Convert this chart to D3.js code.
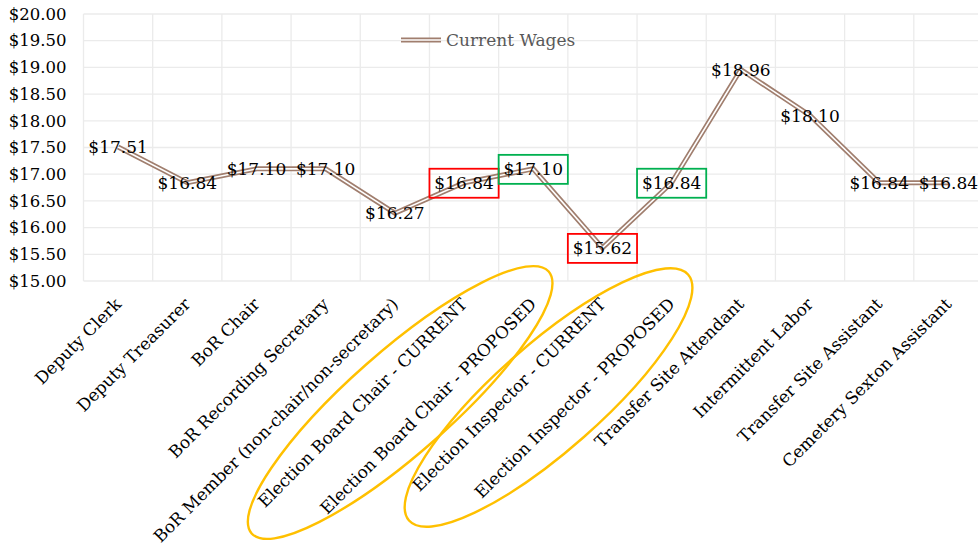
<!DOCTYPE html>
<html><head><meta charset="utf-8">
<script src="https://cdn.jsdelivr.net/npm/d3@7/dist/d3.min.js"></script>
<style>
html,body{margin:0;padding:0;background:#fff;}
svg{display:block;font-family:"DejaVu Serif",serif;}
</style></head>
<body><svg id="c" width="978" height="548"></svg>
<script>
const categories = ["Deputy Clerk","Deputy Treasurer","BoR Chair","BoR Recording Secretary","BoR Member (non-chair/non-secretary)","Election Board Chair - CURRENT","Election Board Chair - PROPOSED","Election Inspector - CURRENT","Election Inspector - PROPOSED","Transfer Site Attendant","Intermittent Labor","Transfer Site Assistant","Cemetery Sexton Assistant"];
const currentWages = [17.51,16.84,17.10,17.10,16.27,16.84,17.10,15.62,16.84,18.96,18.10,16.84,16.84];
const yTicks = [15,15.5,16,16.5,17,17.5,18,18.5,19,19.5,20];
const seriesName = "Current Wages";
const redBoxes = ["Election Board Chair - CURRENT","Election Inspector - CURRENT"];
const greenBoxes = ["Election Board Chair - PROPOSED","Election Inspector - PROPOSED"];
const circledGroups = [["Election Board Chair - CURRENT","Election Board Chair - PROPOSED"],["Election Inspector - CURRENT","Election Inspector - PROPOSED"]];

const svg = d3.select("#c");
const L=83.5, R=983, T=14, B=281;
const x = d3.scaleBand().domain(categories).range([L,R]).padding(0);
const y = d3.scaleLinear().domain([15,20]).range([B,T]);
const cx = c => x(c)+x.bandwidth()/2;
const fmt = v => "$"+v.toFixed(2);

// gridlines
const g = svg.append("g");
g.selectAll(".hg").data(yTicks).join("line")
 .attr("x1",L).attr("x2",R).attr("y1",d=>y(d)).attr("y2",d=>y(d))
 .attr("stroke","#ebebeb").attr("stroke-width",1.3);
const vlines = categories.map(c=>x(c)).concat([R]);
g.selectAll(".vg").data(vlines).join("line")
 .attr("x1",d=>d).attr("x2",d=>d).attr("y1",T).attr("y2",B)
 .attr("stroke","#ebebeb").attr("stroke-width",1.3);

// y axis labels
const yAxis = d3.axisLeft(y).tickValues(yTicks).tickFormat(fmt).tickSize(0).tickPadding(17);
const ya = svg.append("g").attr("transform",`translate(${L},0)`).call(yAxis);
ya.select(".domain").remove();
ya.selectAll("text").attr("font-family","DejaVu Serif").attr("font-size",16.5).attr("fill","#000");

// x axis labels
const xa = svg.append("g").attr("transform",`translate(0,${B})`)
 .call(d3.axisBottom(x).tickSize(0).tickPadding(0));
xa.select(".domain").remove();
xa.selectAll("text")
 .attr("font-family","DejaVu Serif").attr("font-size",16.9).attr("fill","#000")
 .attr("text-anchor","end").attr("dy","0.35em")
 .attr("transform","translate(0,20) rotate(-45)");

// line (double/compound style)
const line = d3.line().x((d,i)=>cx(categories[i])).y(d=>y(d));
svg.append("path").datum(currentWages).attr("d",line).attr("fill","none")
 .attr("stroke","#a07e6e").attr("stroke-width",5).attr("stroke-linejoin","miter");
svg.append("path").datum(currentWages).attr("d",line).attr("fill","none")
 .attr("stroke","#fff").attr("stroke-width",1.6).attr("stroke-linejoin","miter");

// data labels
const pts = categories.map((c,i)=>({c,v:currentWages[i]}));
svg.append("g").selectAll("text").data(pts).join("text")
 .attr("x",d=>cx(d.c)).attr("y",d=>y(d.v)).attr("dy","0.36em")
 .attr("text-anchor","middle").attr("font-size",17).attr("fill","#000")
 .text(d=>fmt(d.v));

// highlight boxes
const bw = x.bandwidth(), bh = 29;
function boxes(list,color){
 svg.append("g").selectAll("rect").data(pts.filter(p=>list.includes(p.c))).join("rect")
  .attr("x",d=>cx(d.c)-bw/2).attr("y",d=>y(d.v)-bh/2+0.5).attr("width",bw).attr("height",bh)
  .attr("fill","none").attr("stroke",color).attr("stroke-width",1.8);
}
boxes(redBoxes,"#ff0000");
boxes(greenBoxes,"#00b050");

// legend
const lg = svg.append("g").attr("transform","translate(401,40)");
lg.append("line").attr("x1",0).attr("x2",40).attr("y1",0).attr("y2",0).attr("stroke","#a07e6e").attr("stroke-width",5);
lg.append("line").attr("x1",0).attr("x2",40).attr("y1",0).attr("y2",0).attr("stroke","#fff").attr("stroke-width",1.6);
lg.append("text").attr("x",45).attr("y",0).attr("dy","0.36em").attr("font-size",17).attr("fill","#595959").text(seriesName);

// annotation ellipses around label pairs
const ell = [{g:circledGroups[0],dx:-98.5,cy:402.5,a:198,b:51},{g:circledGroups[1],dx:-88.5,cy:397.5,a:186,b:53}];
svg.append("g").selectAll("ellipse").data(ell).join("ellipse")
 .attr("cx",0).attr("cy",0).attr("rx",d=>d.a).attr("ry",d=>d.b)
 .attr("transform",d=>`translate(${(cx(d.g[0])+cx(d.g[1]))/2+d.dx},${d.cy}) rotate(-41.4)`)
 .attr("fill","none").attr("stroke","#ffc000").attr("stroke-width",2.4);
</script></body></html>
